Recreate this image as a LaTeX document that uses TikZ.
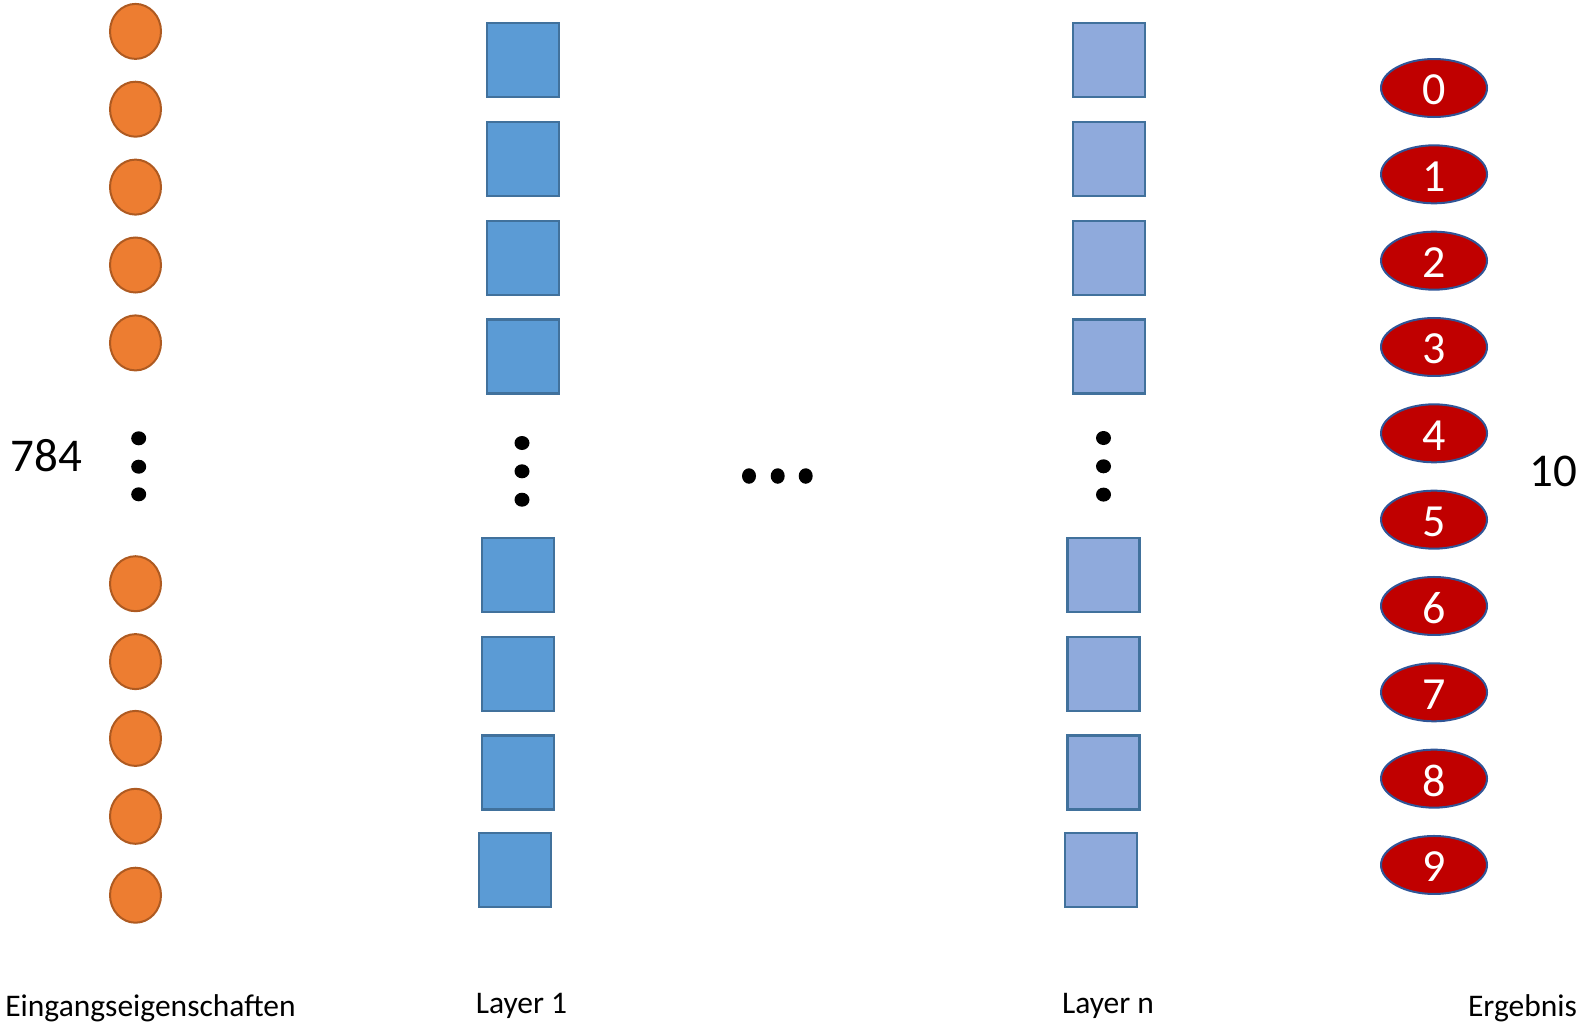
\documentclass[tikz,border=0pt]{standalone}
\usepackage{fontspec}
\setmainfont{Carlito}
\usetikzlibrary{shapes.geometric}
\definecolor{inFill}{HTML}{ED7D31}
\definecolor{inLine}{HTML}{AE5A21}
\definecolor{hidFill}{HTML}{5B9BD5}
\definecolor{hidLine}{HTML}{41719C}
\definecolor{hidFillB}{HTML}{8FAADC}
\definecolor{outFill}{HTML}{C00000}
\definecolor{outLine}{HTML}{2F5597}
\tikzset{
  inunit/.style={ellipse, draw=inLine, fill=inFill, line width=2pt,
    minimum width=51pt, minimum height=55pt, inner sep=0pt},
  unitA/.style={rectangle, draw=hidLine, fill=hidFill, line width=2.4pt,
    minimum width=72pt, minimum height=74pt, inner sep=0pt},
  unitB/.style={unitA, fill=hidFillB},
  outunit/.style={ellipse, draw=outLine, fill=outFill, line width=2pt,
    minimum width=106pt, minimum height=58pt, inner sep=0pt},
  digit/.style={text=white, inner sep=0pt, font=\fontsize{46}{50}\selectfont},
  vdot/.style={ellipse, fill=black, minimum width=15pt, minimum height=14pt, inner sep=0pt},
  hdot/.style={ellipse, fill=black, minimum width=14pt, minimum height=15.5pt, inner sep=0pt},
  caption/.style={anchor=base, inner sep=0pt, font=\fontsize{31.5}{36}\selectfont},
  count/.style={anchor=base, inner sep=0pt, font=\fontsize{47}{52}\selectfont}
}
\begin{document}
\begin{tikzpicture}[x=1pt, y=-1pt]
\useasboundingbox (0,0) rectangle (1586,1023);

% input features
\foreach \y [count=\i] in {31.4,109.2,187.1,265,342.9,583.7,661.6,738.4,816.3,895.2}
  \node[inunit] (in\i) at (135.5,\y) {};
\foreach \y [count=\i] in {438.3,466.7,494.3}
  \node[vdot] (indot\i) at (138.7,\y) {};
\node[count] (nin) at (46.5,471) {784};

% first hidden layer
\foreach \y [count=\i] in {60.2,158.8,258,356.5}
  \node[unitA] (ha\i) at (523,\y) {};
\foreach \y [count=\i, evaluate=\i as \j using int(\i+4)] in {575,673.7,772.3}
  \node[unitA] (ha\j) at (518,\y) {};
\node[unitA] (ha8) at (515,869.9) {};
\foreach \y [count=\i] in {443,471.3,499.7}
  \node[vdot] (hadot\i) at (522,\y) {};

% further layers omitted
\foreach \x [count=\i] in {749,777.7,805.7}
  \node[hdot] (mid\i) at (\x,476) {};

% last hidden layer
\foreach \y [count=\i] in {60.2,158.8,258,356.5}
  \node[unitB] (hn\i) at (1109,\y) {};
\foreach \y [count=\i, evaluate=\i as \j using int(\i+4)] in {575,673.7,772.3}
  \node[unitB] (hn\j) at (1103.5,\y) {};
\node[unitB] (hn8) at (1101,869.9) {};
\foreach \y [count=\i] in {438,466.3,494.6}
  \node[vdot] (hndot\i) at (1103.5,\y) {};

% output classes
\foreach \d in {0,...,9} {
  \node[outunit] (out\d) at (1434,{88+86.33*\d}) {};
  \node[digit] (lab\d) at ([yshift=-2pt]out\d.center) {\d};
}
\node[count] (nout) at (1553,486) {10};

% captions
\node[caption] (capin) at (150.5,1016.7) {Eingangseigenschaften};
\node[caption] (capa) at (521.5,1013) {Layer 1};
\node[caption] (capn) at (1108,1013) {Layer n};
\node[caption] (capout) at (1522.5,1016.7) {Ergebnis};
\end{tikzpicture}
\end{document}
